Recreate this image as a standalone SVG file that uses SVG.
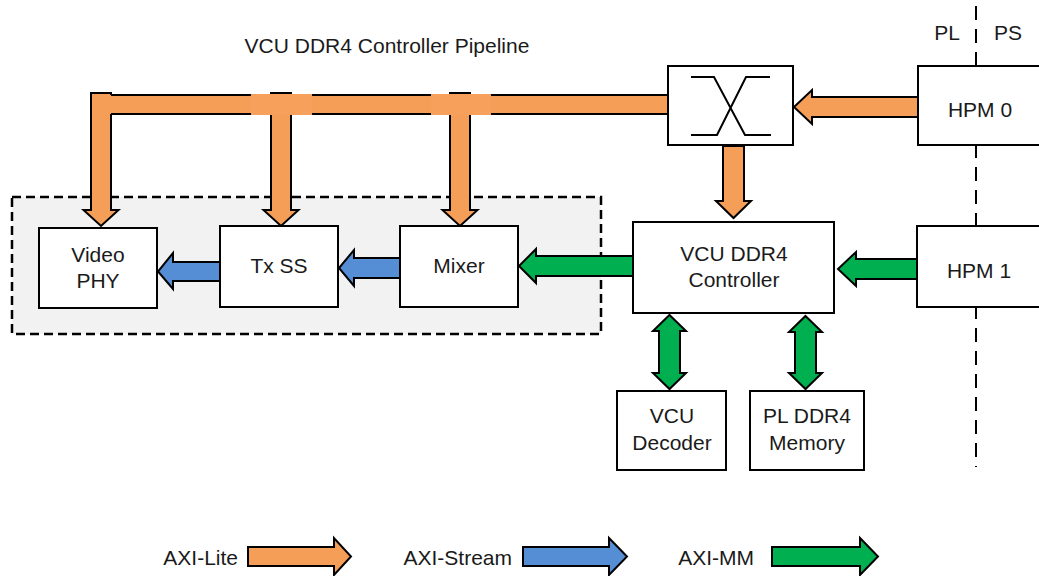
<svg xmlns="http://www.w3.org/2000/svg" width="1039" height="576" viewBox="0 0 1039 576">
<style>
text{font-family:"Liberation Sans",Arial,sans-serif;font-size:21px;fill:#1a1a1a;text-anchor:middle}
.box{fill:#fff;stroke:#000;stroke-width:2}
.lite{fill:#F59E58;stroke:#000;stroke-width:2;stroke-linejoin:miter}
.stream{fill:#558ED5;stroke:#000;stroke-width:2}
.mm{fill:#00B050;stroke:#000;stroke-width:2}
.edge{stroke:#000;stroke-width:2;fill:none}
.lg{text-anchor:end}
</style>
<rect width="1039" height="576" fill="#fff"/>
<text x="387" y="53">VCU DDR4 Controller Pipeline</text>
<g id="boundary">
<line x1="976" y1="6" x2="976" y2="467" stroke="#000" stroke-width="2" stroke-dasharray="14,9"/>
<text x="947" y="40">PL</text>
<text x="1008" y="40">PS</text>
</g>
<g id="pipeline-group">
<rect x="12" y="197" width="589" height="137" fill="#F2F2F2" stroke="#000" stroke-width="2.5" stroke-dasharray="9,5"/>
</g>
<g id="connectors">
<polygon class="lite" points="91,93 111,93 111,210 118.5,210 101,226 83.5,210 91,210"/>
<polygon class="lite" points="271,93 291,93 291,210 298.5,210 281,226 263.5,210 271,210"/>
<polygon class="lite" points="450,93 470,93 470,210 477.5,210 460,226 442.5,210 450,210"/>
<rect x="110" y="95" width="558" height="19" fill="#F59E58"/>
<path class="edge" d="M111,95 H668 M111,114 H668"/>
<rect x="251" y="94" width="61" height="21" fill="#F6A05B"/>
<rect x="431" y="94" width="60" height="21" fill="#F6A05B"/>
<polygon class="lite" points="723,146 744,146 744,201 751,201 733.5,218 716,201 723,201"/>
<polygon class="lite" points="918,97 812,97 812,90 794,107 812,124 812,117 918,117"/>
<polygon class="mm" points="917,259 856,259 856,252 838,269 856,286 856,279 917,279"/>
<polygon class="mm" points="633,256 536,256 536,249 519,266 536,283 536,276 633,276"/>
<polygon class="stream" points="400,258 354,258 354,250 339,268 354,286 354,278 400,278"/>
<polygon class="stream" points="220,262 173,262 173,253 158,271.5 173,289 173,281 220,281"/>
<polygon class="mm" points="669.5,315 686,331 680,331 680,373 686,373 669.5,389 653,373 659,373 659,331 653,331"/>
<polygon class="mm" points="805.5,316 822,332 816,332 816,373 822,373 805.5,389 789,373 795,373 795,332 789,332"/>
</g>
<g id="crossbar">
<rect class="box" x="668" y="66" width="125" height="79"/>
<path class="edge" d="M691,77 H714 L745,135 H771 M691,135 H717 L746,77 H770"/>
</g>
<g id="hpm0">
<rect class="box" x="918" y="66" width="140" height="79"/>
<text x="980" y="117">HPM 0</text>
</g>
<g id="hpm1">
<rect class="box" x="917" y="226" width="140" height="81"/>
<text x="979" y="278">HPM 1</text>
</g>
<g id="video-phy">
<rect class="box" x="39" y="228" width="118" height="80"/>
<text x="98" y="262">Video</text>
<text x="98" y="288">PHY</text>
</g>
<g id="tx-ss">
<rect class="box" x="220" y="226" width="118" height="81"/>
<text x="279" y="273">Tx SS</text>
</g>
<g id="mixer">
<rect class="box" x="400" y="226" width="118" height="81"/>
<text x="459" y="273">Mixer</text>
</g>
<g id="vcu-ddr4-controller">
<rect class="box" x="633" y="222" width="201" height="91"/>
<text x="734" y="261">VCU DDR4</text>
<text x="734" y="287">Controller</text>
</g>
<g id="vcu-decoder">
<rect class="box" x="617" y="391" width="109" height="79"/>
<text x="672" y="423">VCU</text>
<text x="672" y="450">Decoder</text>
</g>
<g id="pl-ddr4-memory">
<rect class="box" x="750" y="391" width="114" height="79"/>
<text x="807" y="423">PL DDR4</text>
<text x="807" y="450">Memory</text>
</g>
<g id="legend">
<text class="lg" x="238" y="565">AXI-Lite</text>
<polygon class="lite" points="248,547 334,547 334,538 351,556.5 334,575 334,566 248,566"/>
<text class="lg" x="512" y="565">AXI-Stream</text>
<polygon class="stream" points="523,547 609,547 609,538 627,556.5 609,575 609,566 523,566"/>
<text class="lg" x="754" y="565">AXI-MM</text>
<polygon class="mm" points="772,547 860,547 860,538 878,556.5 860,575 860,566 772,566"/>
</g>
</svg>
